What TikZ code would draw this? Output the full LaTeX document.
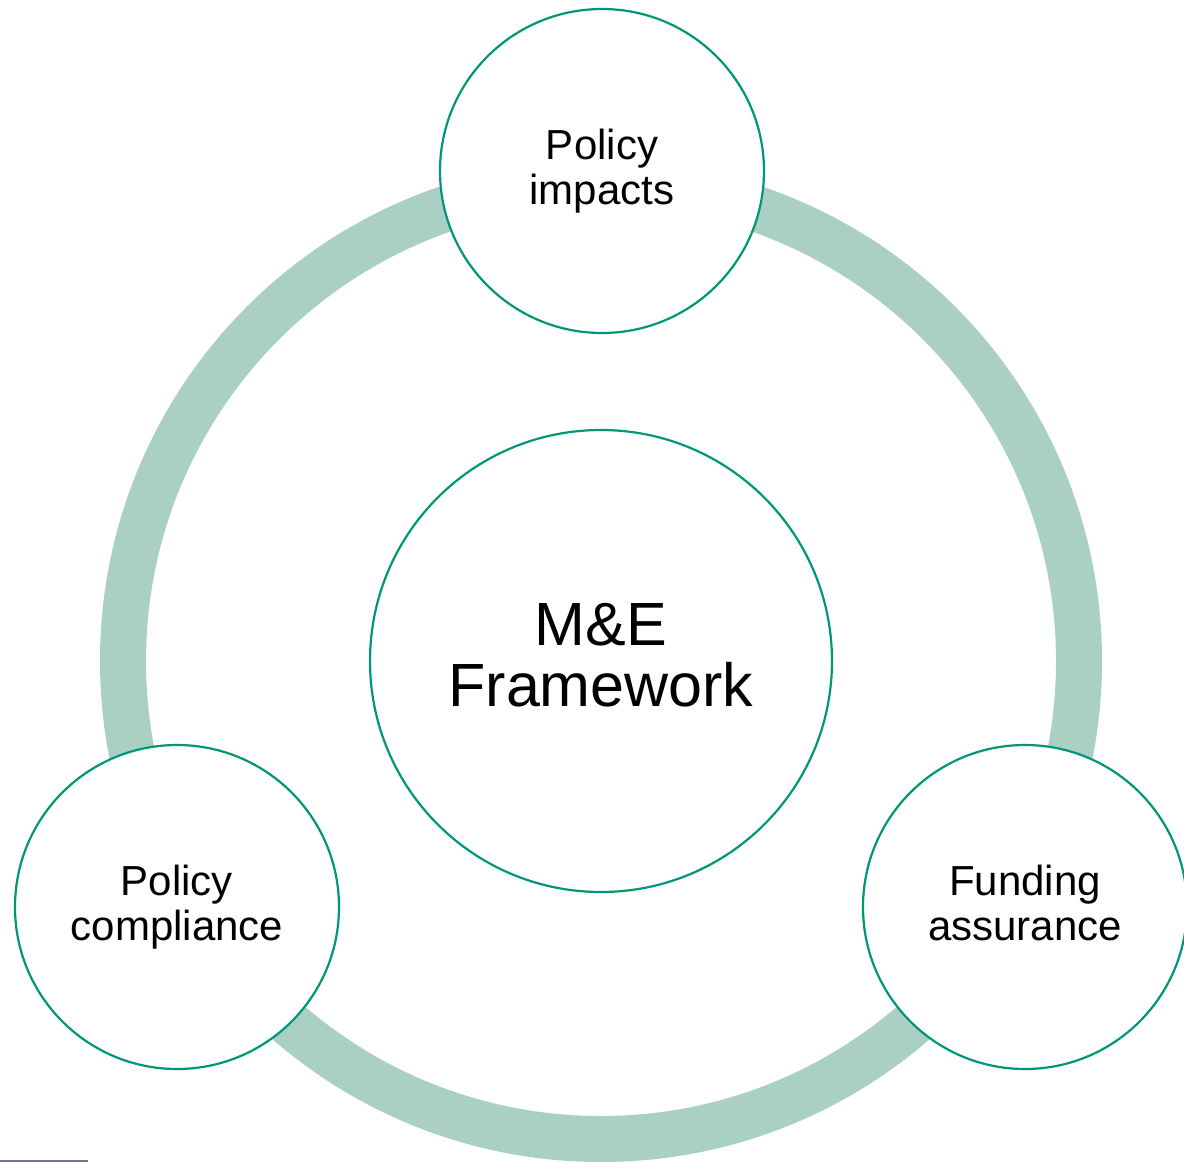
\documentclass[tikz,border=0pt]{standalone}
\usepackage{fontspec}
\setmainfont{Liberation Sans}
\definecolor{ringcol}{HTML}{AAD0C3}
\definecolor{edgecol}{HTML}{009678}
\definecolor{rulecol}{HTML}{7A7090}
\begin{document}
\begin{tikzpicture}[x=1pt,y=-1pt,
  bubble/.style={circle,draw=edgecol,line width=2.2pt,fill=white,inner sep=0pt,
    minimum size=324pt,align=center,font=\fontsize{42}{45}\selectfont},
  hub/.style={circle,draw=edgecol,line width=2.2pt,fill=white,inner sep=0pt,
    minimum size=462pt,align=center,font=\fontsize{61}{61}\selectfont}]
\useasboundingbox (0,0) rectangle (1184,1162);
\coordinate (c) at (601,661);
\draw[ringcol,line width=46pt] (c) circle[radius=478];
\node[hub] (mef) at (c) {M\&E\\Framework\vphantom{p}};
\node[bubble] (pi) at (602,171) {Policy\\impacts};
\node[bubble] (pc) at (177,907) {Policy\\compliance};
\node[bubble] (fa) at (1025,907) {Funding\\assurance\vphantom{p}};
\draw[rulecol,line width=1.5pt] (0,1161) -- (88,1161);
\end{tikzpicture}
\end{document}
